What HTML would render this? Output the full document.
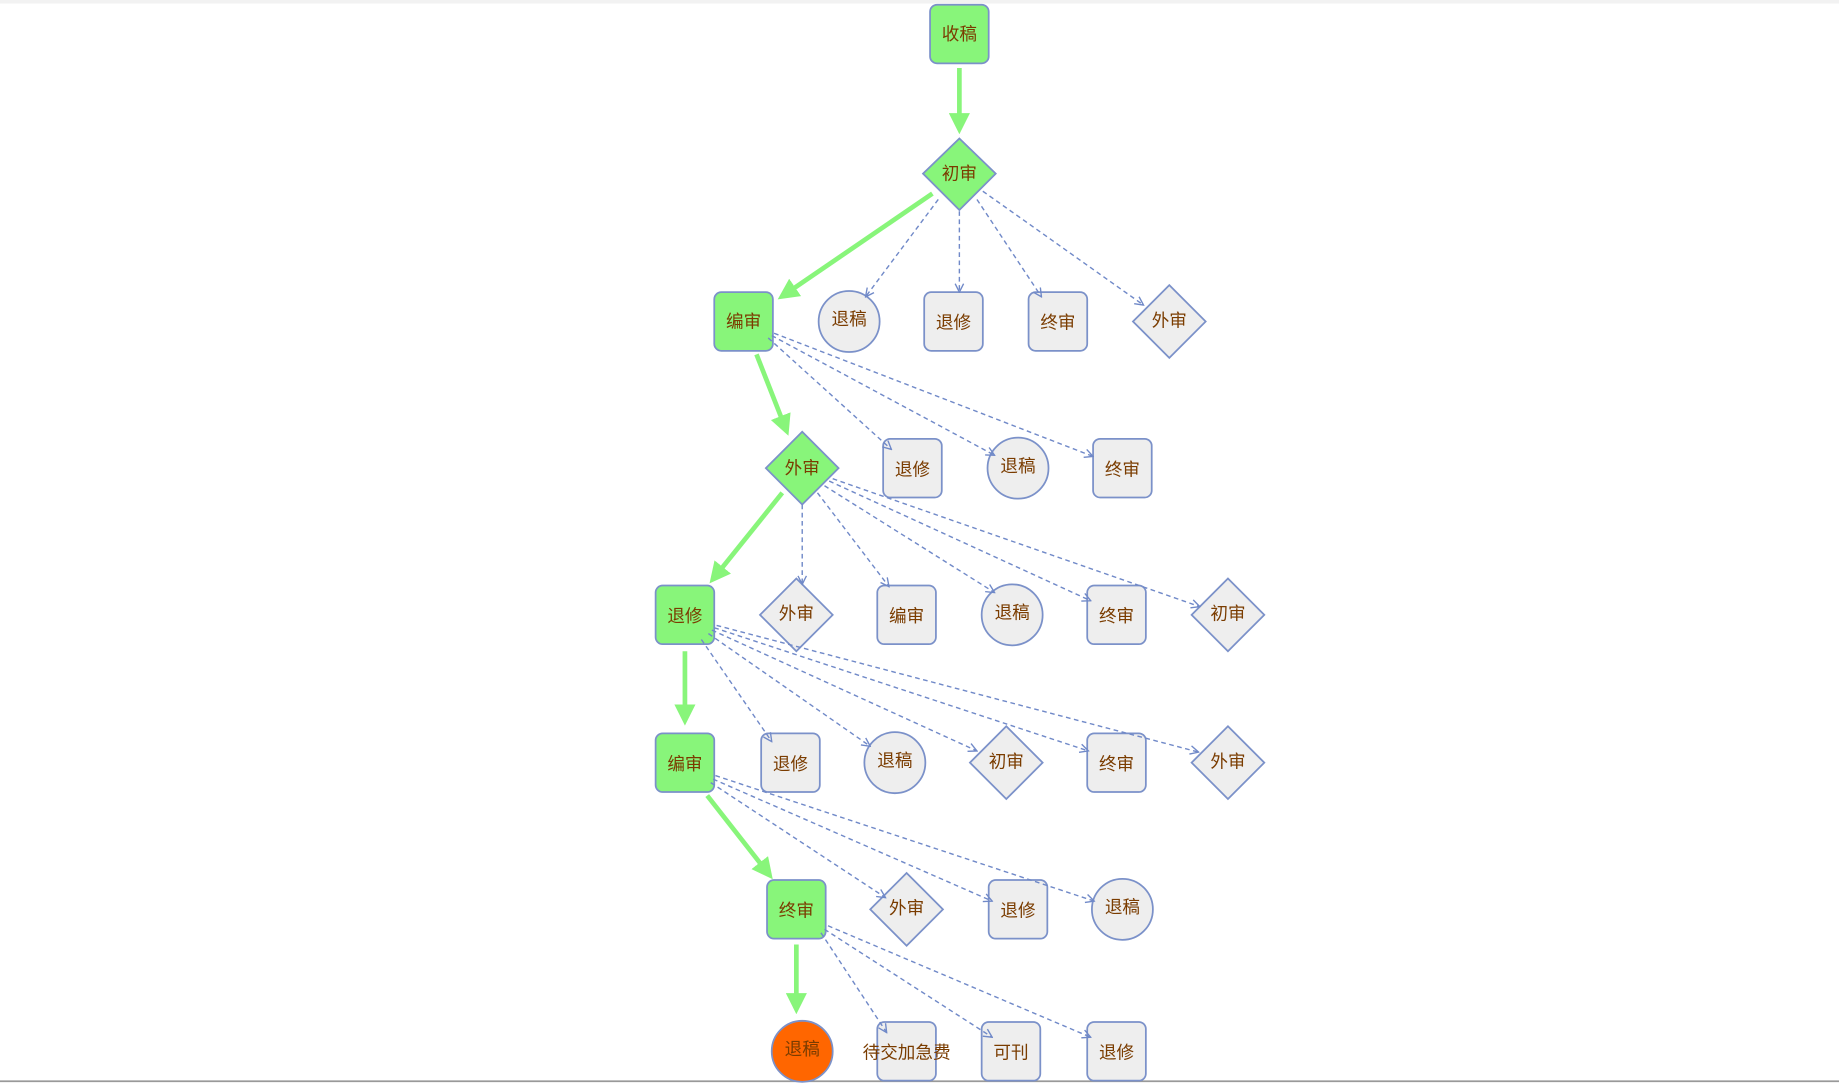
<!DOCTYPE html>
<html><head><meta charset="utf-8"><style>
html,body{margin:0;padding:0;background:#fff;width:1839px;height:1083px;overflow:hidden}
svg{display:block}
text{font-family:"Liberation Sans","Noto Sans CJK SC",sans-serif;font-size:15px;fill:#7a3c00;text-anchor:middle;dominant-baseline:central}
.n{fill:#eeeeee;stroke:#7b91c9;stroke-width:1.5}
.g{fill:#88f57a;stroke:#7b91c9;stroke-width:1.5}
.o{fill:#ff6600;stroke:#7b91c9;stroke-width:1.5}
.d{stroke:#7089c8;stroke-width:1.2;stroke-dasharray:4 3;fill:none;marker-end:url(#oa)}
.s{stroke:#88f57a;stroke-width:4;fill:none;marker-end:url(#ga)}
</style></head><body>
<svg width="1839" height="1083" viewBox="0 0 1568 923" preserveAspectRatio="none" xmlns="http://www.w3.org/2000/svg">
<defs>
<marker id="ga" viewBox="0 0 10 10" refX="2" refY="5" markerUnits="userSpaceOnUse" markerWidth="18" markerHeight="18" orient="auto"><path d="M0,0 L10,5 L0,10 z" fill="#88f57a"/></marker>
<marker id="oa" viewBox="0 0 10 10" refX="9" refY="5" markerUnits="userSpaceOnUse" markerWidth="9" markerHeight="9" orient="auto"><path d="M1,1 L9,5 L1,9" fill="none" stroke="#7089c8" stroke-width="1.3"/></marker>
</defs>
<rect x="0" y="0" width="1568" height="3" fill="#f2f2f2"/>
<line x1="0" y1="921.5" x2="1568" y2="921.5" stroke="#999" stroke-width="1.5"/>

<!-- row 1 -->
<rect class="g" x="793" y="4" width="50" height="50" rx="6"/><text x="818" y="29">收稿</text>
<!-- row 2 -->
<polygon class="g" points="818,118 849,148 818,179 787,148"/><text x="818" y="148">初审</text>
<!-- row 3 -->
<rect class="g" x="609" y="249" width="50" height="50" rx="6"/><text x="634" y="274">编审</text>
<ellipse class="n" cx="724" cy="274" rx="26" ry="26"/><text x="724" y="272">退稿</text>
<rect class="n" x="788" y="249" width="50" height="50" rx="6"/><text x="813" y="275">退修</text>
<rect class="n" x="877" y="249" width="50" height="50" rx="6"/><text x="902" y="275">终审</text>
<polygon class="n" points="997,243 1028,274 997,305 966,274"/><text x="997" y="273">外审</text>
<!-- row 4 -->
<polygon class="g" points="684,368 715,399 684,430 653,399"/><text x="684" y="399">外审</text>
<rect class="n" x="753" y="374" width="50" height="50" rx="6"/><text x="778" y="400">退修</text>
<ellipse class="n" cx="868" cy="399" rx="26" ry="26"/><text x="868" y="397">退稿</text>
<rect class="n" x="932" y="374" width="50" height="50" rx="6"/><text x="957" y="400">终审</text>
<!-- row 5 -->
<rect class="g" x="559" y="499" width="50" height="50" rx="6"/><text x="584" y="525">退修</text>
<polygon class="n" points="679,493 710,524 679,555 648,524"/><text x="679" y="523">外审</text>
<rect class="n" x="748" y="499" width="50" height="50" rx="6"/><text x="773" y="525">编审</text>
<ellipse class="n" cx="863" cy="524" rx="26" ry="26"/><text x="863" y="522">退稿</text>
<rect class="n" x="927" y="499" width="50" height="50" rx="6"/><text x="952" y="525">终审</text>
<polygon class="n" points="1047,493 1078,524 1047,555 1016,524"/><text x="1047" y="523">初审</text>
<!-- row 6 -->
<rect class="g" x="559" y="625" width="50" height="50" rx="6"/><text x="584" y="651">编审</text>
<rect class="n" x="649" y="625" width="50" height="50" rx="6"/><text x="674" y="651">退修</text>
<ellipse class="n" cx="763" cy="650" rx="26" ry="26"/><text x="763" y="648">退稿</text>
<polygon class="n" points="858,619 889,650 858,681 827,650"/><text x="858" y="649">初审</text>
<rect class="n" x="927" y="625" width="50" height="50" rx="6"/><text x="952" y="651">终审</text>
<polygon class="n" points="1047,619 1078,650 1047,681 1016,650"/><text x="1047" y="649">外审</text>
<!-- row 7 -->
<rect class="g" x="654" y="750" width="50" height="50" rx="6"/><text x="679" y="776">终审</text>
<polygon class="n" points="773,744 804,775 773,806 742,775"/><text x="773" y="774">外审</text>
<rect class="n" x="843" y="750" width="50" height="50" rx="6"/><text x="868" y="776">退修</text>
<ellipse class="n" cx="957" cy="775" rx="26" ry="26"/><text x="957" y="773">退稿</text>
<!-- row 8 -->
<ellipse class="o" cx="684" cy="896" rx="26" ry="26"/><text x="684" y="894">退稿</text>
<rect class="n" x="748" y="871" width="50" height="50" rx="6"/><text x="773" y="897">待交加急费</text>
<rect class="n" x="837" y="871" width="50" height="50" rx="6"/><text x="862" y="897">可刊</text>
<rect class="n" x="927" y="871" width="50" height="50" rx="6"/><text x="952" y="897">退修</text>

<!-- green edges -->
<line class="s" x1="818" y1="58" x2="818" y2="100"/>
<line class="s" x1="795" y1="165" x2="675" y2="247"/>
<line class="s" x1="645" y1="302" x2="667" y2="358"/>
<line class="s" x1="667" y1="420" x2="614" y2="486"/>
<line class="s" x1="584" y1="555" x2="584" y2="604"/>
<line class="s" x1="603" y1="678" x2="650" y2="738"/>
<line class="s" x1="679" y1="805" x2="679" y2="850"/>

<!-- dashed edges -->
<path class="d" d="M800,170 L738,253"/>
<path class="d" d="M818,180 L818,249"/>
<path class="d" d="M833,170 L888,253"/>
<path class="d" d="M838,163 L975,260"/>

<path class="d" d="M655,288 L760,383"/>
<path class="d" d="M658,286 L848,388"/>
<path class="d" d="M660,284 L932,389"/>

<path class="d" d="M684,430 L684,498"/>
<path class="d" d="M697,420 L758,500"/>
<path class="d" d="M703,414 L848,505"/>
<path class="d" d="M707,410 L930,512"/>
<path class="d" d="M710,408 L1023,517"/>

<path class="d" d="M598,545 L658,632"/>
<path class="d" d="M604,540 L742,636"/>
<path class="d" d="M607,537 L833,640"/>
<path class="d" d="M609,535 L928,640"/>
<path class="d" d="M611,533 L1022,641"/>

<path class="d" d="M606,667 L755,765"/>
<path class="d" d="M608,664 L846,768"/>
<path class="d" d="M610,661 L933,768"/>

<path class="d" d="M700,795 L756,880"/>
<path class="d" d="M703,792 L846,884"/>
<path class="d" d="M706,789 L930,884"/>
</svg>
</body></html>
